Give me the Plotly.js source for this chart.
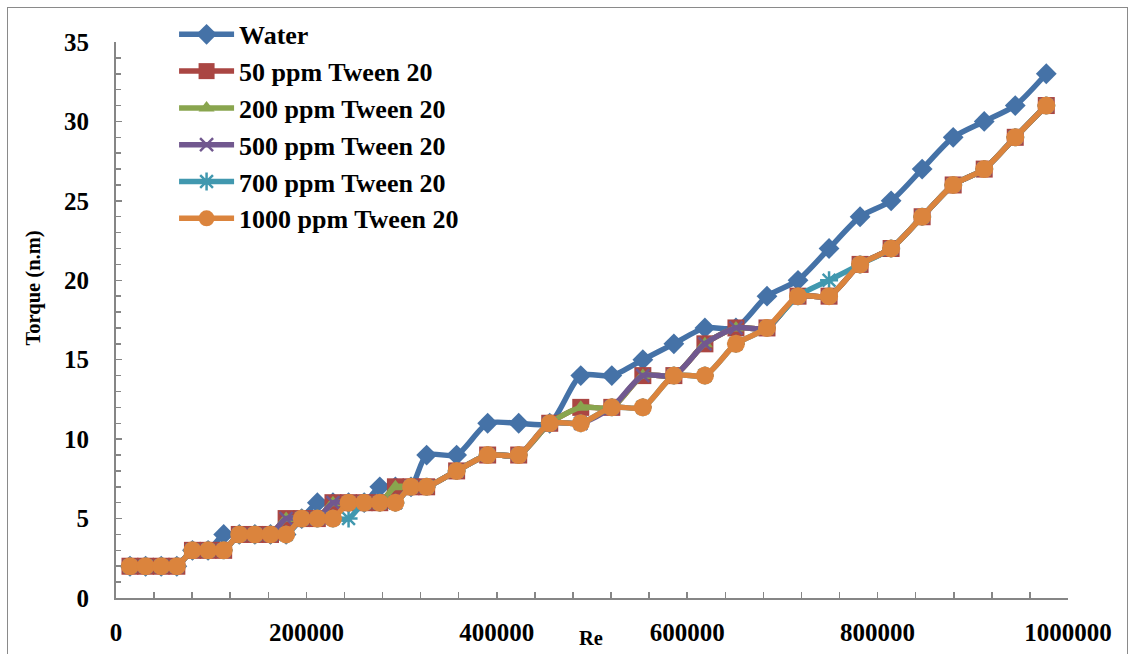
<!DOCTYPE html>
<html>
<head>
<meta charset="utf-8">
<script src="https://cdn.plot.ly/plotly-3.0.1.min.js"></script>
<style>
  html, body { margin: 0; padding: 0; background: #ffffff; }
  #wrap { position: relative; width: 1134px; height: 654px; overflow: hidden; }
  #chart { position: absolute; left: 0; top: 0; width: 1134px; height: 654px; }
  #frame { position: absolute; left: 7px; top: 7px; width: 1119px; height: 700px; border: 1.5px solid #8a8a8a; pointer-events: none; }
</style>
</head>
<body>
<div id="wrap">
  <div id="chart"></div>
  <div id="frame"></div>
</div>
<script>
// Reynolds number (x) shared by all series
const re = [14700, 31100, 47500, 63900, 80300, 96700, 113100, 129500, 145900, 162300,
            178700, 195100, 211500, 227900, 244300, 260700, 277100, 293500, 309900, 326300,
            357800, 390400, 423000, 455600, 488200, 520800, 553400, 586000, 618600, 651200,
            683800, 716400, 749000, 781600, 814200, 846800, 879400, 912000, 944600, 977200];

// Torque (n.m) per series
const water   = [2, 2, 2, 2, 3, 3, 4, 4, 4, 4, 4, 5, 6, 6, 6, 6, 7, 7, 7, 9,
                 9, 11, 11, 11, 14, 14, 15, 16, 17, 17, 19, 20, 22, 24, 25, 27, 29, 30, 31, 33];
const ppm50   = [2, 2, 2, 2, 3, 3, 3, 4, 4, 4, 5, 5, 5, 6, 6, 6, 6, 7, 7, 7,
                 8, 9, 9, 11, 12, 12, 14, 14, 16, 17, 17, 19, 19, 21, 22, 24, 26, 27, 29, 31];
const ppm200  = [2, 2, 2, 2, 3, 3, 3, 4, 4, 4, 5, 5, 5, 6, 6, 6, 6, 7, 7, 7,
                 8, 9, 9, 11, 12, 12, 14, 14, 16, 17, 17, 19, 19, 21, 22, 24, 26, 27, 29, 31];
const ppm500  = [2, 2, 2, 2, 3, 3, 3, 4, 4, 4, 5, 5, 5, 6, 6, 6, 6, 6, 7, 7,
                 8, 9, 9, 11, 11, 12, 14, 14, 16, 17, 17, 19, 19, 21, 22, 24, 26, 27, 29, 31];
const ppm700  = [2, 2, 2, 2, 3, 3, 3, 4, 4, 4, 4, 5, 5, 5, 5, 6, 6, 6, 7, 7,
                 8, 9, 9, 11, 11, 12, 12, 14, 14, 16, 17, 19, 20, 21, 22, 24, 26, 27, 29, 31];
const ppm1000 = [2, 2, 2, 2, 3, 3, 3, 4, 4, 4, 4, 5, 5, 5, 6, 6, 6, 6, 7, 7,
                 8, 9, 9, 11, 11, 12, 12, 14, 14, 16, 17, 19, 19, 21, 22, 24, 26, 27, 29, 31];

const seriesNames = ['Water', '50 ppm Tween 20', '200 ppm Tween 20', '500 ppm Tween 20', '700 ppm Tween 20', '1000 ppm Tween 20'];
const xTickVals = [0, 200000, 400000, 600000, 800000, 1000000];
const xTickText = ['0', '200000', '400000', '600000', '800000', '1000000'];
const yTickVals = [0, 5, 10, 15, 20, 25, 30, 35];

const colors = ['#4572A7', '#AA4643', '#89A54E', '#71588F', '#4198AF', '#DB843D'];
const markers = [
  {symbol: 'diamond', size: 16, color: colors[0]},
  {symbol: 'square', size: 17, color: colors[1]},
  {symbol: 'triangle-up', size: 14, color: colors[2]},
  {symbol: 'x-thin-open', size: 13, color: colors[3], line: {color: colors[3], width: 2.5}},
  {symbol: 'asterisk-open', size: 15, color: colors[4], line: {color: colors[4], width: 2.5}},
  {symbol: 'circle', size: 18, color: colors[5]}
];
const ys = [water, ppm50, ppm200, ppm500, ppm700, ppm1000];

const traces = ys.map((y, i) => ({
  type: 'scatter',
  mode: 'lines+markers',
  name: seriesNames[i],
  legendgroup: 'g' + i,
  x: re,
  y: y,
  line: {color: colors[i], width: 5.5, shape: 'spline', smoothing: 0.7},
  marker: markers[i]
}));

const fontFam = '"Liberation Serif", "Times New Roman", serif';

const layout = {
  width: 1134,
  height: 654,
  margin: {l: 116, r: 66, t: 41, b: 56},
  paper_bgcolor: '#ffffff',
  plot_bgcolor: '#ffffff',
  showlegend: true,
  legend: {
    x: 0.061, y: 1.054, xanchor: 'left', yanchor: 'top',
    bgcolor: 'rgba(0,0,0,0)',
    font: {family: fontFam, size: 26, color: '#000000', weight: 'bold'},
    itemwidth: 55,
    traceorder: 'grouped',
    tracegroupgap: 0
  },
  xaxis: {
    range: [0, 1000000],
    tickmode: 'array', tickvals: xTickVals, ticktext: xTickText,
    showgrid: false, zeroline: false,
    showline: true, linecolor: '#868686', linewidth: 2,
    ticks: 'inside', ticklen: 6, tickcolor: '#868686', tickwidth: 1.5,
    minor: {dtick: 40000, ticks: 'inside', ticklen: 6, tickcolor: '#868686', tickwidth: 1.5, showgrid: false},
    tickfont: {family: fontFam, size: 25, color: '#000000', weight: 'bold'},
    ticklabelstandoff: 11
  },
  yaxis: {
    range: [0, 35],
    tickmode: 'array', tickvals: yTickVals,
    showgrid: false, zeroline: false,
    showline: true, linecolor: '#868686', linewidth: 2,
    ticks: 'inside', ticklen: 6, tickcolor: '#868686', tickwidth: 1.5,
    minor: {dtick: 1, ticks: 'inside', ticklen: 5, tickcolor: '#868686', tickwidth: 1.5, showgrid: false},
    tickfont: {family: fontFam, size: 25, color: '#000000', weight: 'bold'},
    ticklabelstandoff: 20
  },
  annotations: [{
    text: 'Torque (n.m)', xref: 'paper', yref: 'paper',
    x: -0.087, y: 0.557, xanchor: 'center', yanchor: 'middle',
    textangle: -90, showarrow: false,
    font: {family: fontFam, size: 20.5, color: '#000000', weight: 'bold'}
  }, {
    text: 'Re', xref: 'paper', yref: 'paper',
    x: 0.499, y: -0.072, xanchor: 'center', yanchor: 'middle',
    showarrow: false,
    font: {family: fontFam, size: 20.5, color: '#000000', weight: 'bold'}
  }]
};

Plotly.newPlot('chart', traces, layout, {displayModeBar: false, staticPlot: true});
</script>
</body>
</html>
